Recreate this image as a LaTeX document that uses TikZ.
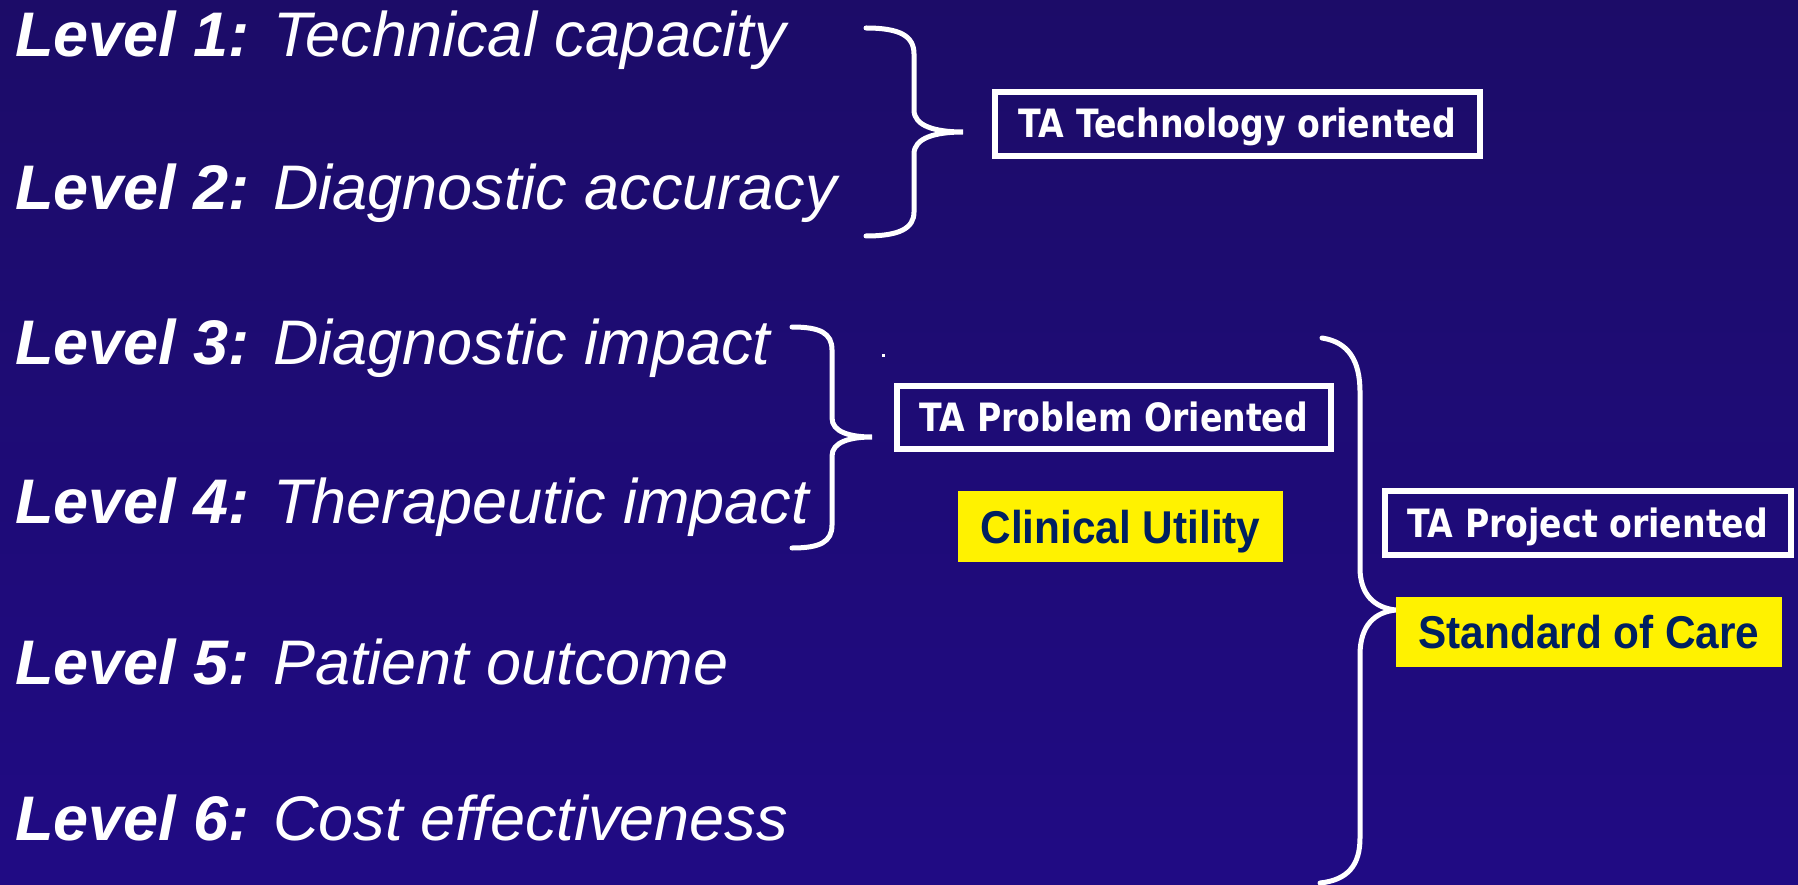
\documentclass[tikz,border=0pt]{standalone}
\usepackage{fontspec}
\usepackage{xcolor}
\setmainfont{Liberation Sans}
\newfontfamily\boxfont[FakeStretch=0.85]{DejaVu Sans}
\newfontfamily\tagfont[FakeStretch=0.92]{Liberation Sans}
\definecolor{slidetop}{RGB}{28,12,104}
\definecolor{slidebottom}{RGB}{32,11,132}
\definecolor{tagnavy}{RGB}{0,32,96}
\usepackage{tikz}

\tikzset{
    level/.style={anchor=base west, inner sep=0pt, text=white, font=\fontsize{63}{70}\selectfont},
    tabox/.style={draw=white, line width=6pt, text=white, inner sep=0pt, text height=28pt, text depth=0pt, font=\boxfont\bfseries\fontsize{39}{44}\selectfont},
    tag/.style={fill=yellow, text=tagnavy, inner sep=0pt, text height=33pt, text depth=0pt, font=\tagfont\bfseries\fontsize{46}{50}\selectfont},
    bracket/.style={draw=white, line width=5pt, line cap=round}
}

\begin{document}
\begin{tikzpicture}[x=1pt, y=-1pt]

        % ---------- Background ----------
        \useasboundingbox (0,0) rectangle (1798,885);
        \shade[top color=slidetop, bottom color=slidebottom] (0,0) rectangle (1798,885);

        % ---------- Levels ----------
        \node[level] (level1) at (15,57)  {\textbf{\textit{Level 1:}} \textit{Technical capacity}};
        \node[level] (level2) at (15,210) {\textbf{\textit{Level 2:}} \textit{Diagnostic accuracy}};
        \node[level] (level3) at (15,364) {\textbf{\textit{Level 3:}} \textit{Diagnostic impact}};
        \node[level] (level4) at (15,523) {\textbf{\textit{Level 4:}} \textit{Therapeutic impact}};
        \node[level] (level5) at (15,684) {\textbf{\textit{Level 5:}} \textit{Patient outcome}};
        \node[level] (level6) at (15,840) {\textbf{\textit{Level 6:}} \textit{Cost effectiveness}};

        % ---------- Brace for levels 1-2 ----------
        \coordinate (TechTip) at (963,132);
        \draw[bracket] (866,28) .. controls (900,28) and (914,36) .. (914,54)
            -- (914,110) .. controls (914,126) and (935,132) .. (TechTip)
            .. controls (935,132) and (914,138) .. (914,154)
            -- (914,212) .. controls (914,228) and (900,236) .. (866,236);

        \node[tabox, minimum width=485pt, minimum height=64pt] (techbox) at (1237.5,124) {TA Technology oriented};

        % ---------- Brace for levels 3-4 ----------
        \coordinate (ProblemTip) at (872,437);
        \draw[bracket] (792,327) .. controls (820,327) and (832,333) .. (832,350)
            -- (832,418) .. controls (832,432) and (850,437) .. (ProblemTip)
            .. controls (850,437) and (832,442) .. (832,456)
            -- (832,525) .. controls (832,542) and (820,548) .. (792,548);

        % small stray dot
        \fill[white] (882,354) rectangle (885,357);

        \node[tabox, minimum width=434pt, minimum height=63pt] (problembox) at (1114,417.5) {TA Problem Oriented};
        \node[tag, minimum width=325pt, minimum height=71pt] (utility) at (1120.5,526.5) {Clinical Utility};

        % ---------- Brace for levels 3-6 ----------
        \coordinate (ProjectTip) at (1396,610);
        \draw[bracket] (1322,338) .. controls (1348,342) and (1360,360) .. (1360,392)
            -- (1360,568) .. controls (1360,595) and (1375,608) .. (ProjectTip)
            .. controls (1375,612) and (1360,625) .. (1360,655)
            -- (1360,838) .. controls (1360,865) and (1348,880) .. (1320,883);

        \node[tabox, minimum width=406pt, minimum height=64pt] (projectbox) at (1588,523) {TA Project oriented};
        \node[tag, minimum width=386pt, minimum height=70pt] (standard) at (1589,632) {Standard of Care};

\end{tikzpicture}
\end{document}
